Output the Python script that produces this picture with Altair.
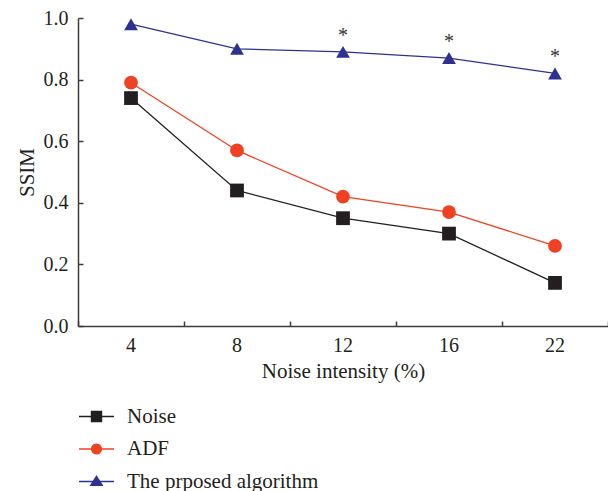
import altair as alt
import pandas as pd

# ---- data ----
noise_levels = ["4", "8", "12", "16", "22"]
series_names = ["Noise", "ADF", "The prposed algorithm"]
noise_vals = [0.74, 0.44, 0.35, 0.30, 0.14]
adf_vals = [0.79, 0.57, 0.42, 0.37, 0.26]
proposed_vals = [0.98, 0.90, 0.89, 0.87, 0.82]
star_levels = ["12", "16", "22"]
colors = ["#231f20", "#ef4123", "#2e3192"]
shapes = ["square", "circle", "triangle-up"]
# legend glyphs: a short line with the marker on it (custom SVG paths)
legend_glyphs = [
    "M-1,0H1M-0.29,-0.29H0.29V0.29H-0.29Z",
    "M-1,0H1M0.28,0A0.28,0.28 0 1,1 -0.28,0A0.28,0.28 0 1,1 0.28,0Z",
    "M-1,0H1M0,-0.3L0.33,0.22L-0.33,0.22Z",
]

rows = []
for name, vals in zip(series_names, [noise_vals, adf_vals, proposed_vals]):
    for lvl, v in zip(noise_levels, vals):
        rows.append({"level": lvl, "series": name, "ssim": v})
df = pd.DataFrame(rows)

star_df = pd.DataFrame({
    "level": star_levels,
    "ssim": [proposed_vals[noise_levels.index(l)] for l in star_levels],
    "label": ["*"] * len(star_levels),
})

FONT = "Liberation Serif"
TXT = "#231f20"
AX = "#3c3c3c"

xscale = alt.Scale(type="band", paddingInner=0, paddingOuter=0, domain=noise_levels)
yscale = alt.Scale(domain=[0, 1])
cscale = alt.Scale(domain=series_names, range=colors)

x_main = alt.X("level:O", scale=xscale, bandPosition=0.5,
               axis=alt.Axis(title="Noise intensity (%)", orient="bottom", ticks=False,
                             labelAngle=0, labelPadding=9, titlePadding=5,
                             domainColor=AX, domainWidth=1.5))
y_main = alt.Y("ssim:Q", scale=yscale,
               axis=alt.Axis(title="SSIM", orient="left", ticks=False, values=[0, 0.2, 0.4, 0.6, 0.8, 1.0],
                             format=".1f", labelPadding=10, titlePadding=6,
                             domainColor=AX, domainWidth=1.5, grid=False))
x_plain = alt.X("level:O", scale=xscale, bandPosition=0.5, axis=None)
y_plain = alt.Y("ssim:Q", scale=yscale, axis=None)

lines = alt.Chart(df).mark_line(strokeWidth=1.3).encode(
    x=x_main, y=y_main,
    color=alt.Color("series:N", scale=cscale, legend=None),
)

points = alt.Chart(df).mark_point(filled=True, size=190, opacity=1).encode(
    x=x_plain, y=y_plain,
    color=alt.Color("series:N", scale=cscale, legend=None),
    shape=alt.Shape("series:N", scale=alt.Scale(domain=series_names, range=shapes), legend=None),
)

leg = alt.Legend(title=None, orient="none", legendX=0, legendY=380,
                 symbolSize=1225, symbolStrokeWidth=1.3, labelOffset=12,
                 symbolFillColor="#000000", symbolStrokeColor="#000000",
                 rowPadding=3.5, padding=0, labelLimit=0)

legend_layer = alt.Chart(df).transform_filter("false").mark_point(
    filled=True, strokeWidth=1.3, opacity=1).encode(
    x=x_plain, y=y_plain,
    fill=alt.Fill("series:N", scale=alt.Scale(domain=series_names, range=colors), legend=leg),
    stroke=alt.Stroke("series:N", scale=alt.Scale(domain=series_names, range=colors), legend=leg),
    shape=alt.Shape("series:N", scale=alt.Scale(domain=series_names, range=legend_glyphs), legend=leg),
)

stars = alt.Chart(star_df).mark_text(font=FONT, fontSize=20, color="#333333", dy=-16,
                                      baseline="middle").encode(
    x=alt.X("level:O", scale=xscale, bandPosition=0.5,
            axis=alt.Axis(title=None, orient="bottom", offset=-5, domain=False, labels=False,
                          ticks=True, tickSize=5, tickBand="extent", tickColor=AX, tickWidth=1.5)),
    y=alt.Y("ssim:Q", scale=yscale,
            axis=alt.Axis(title=None, orient="left", offset=-5, domain=False, labels=False,
                          ticks=True, tickSize=5, tickColor=AX, tickWidth=1.5, grid=False,
                          values=[0, 0.2, 0.4, 0.6, 0.8, 1.0])),
    text="label:N",
)

chart = (
    alt.layer(lines, points, legend_layer, stars)
    .resolve_axis(x="independent", y="independent")
    .resolve_scale(shape="independent", fill="independent", stroke="independent")
    .properties(width=530, height=308,
                autosize=alt.AutoSizeParams(type="none"),
                padding={"left": 78, "top": 18, "right": 0, "bottom": 165})
    .configure_view(stroke=None)
    .configure_axis(labelFont=FONT, titleFont=FONT, labelFontSize=20, titleFontSize=21,
                    labelColor=TXT, titleColor=TXT, titleFontWeight="normal")
    .configure_legend(labelFont=FONT, labelFontSize=21, labelColor=TXT)
)

chart.save("out.html", embed_options={"renderer": "svg", "actions": False})
